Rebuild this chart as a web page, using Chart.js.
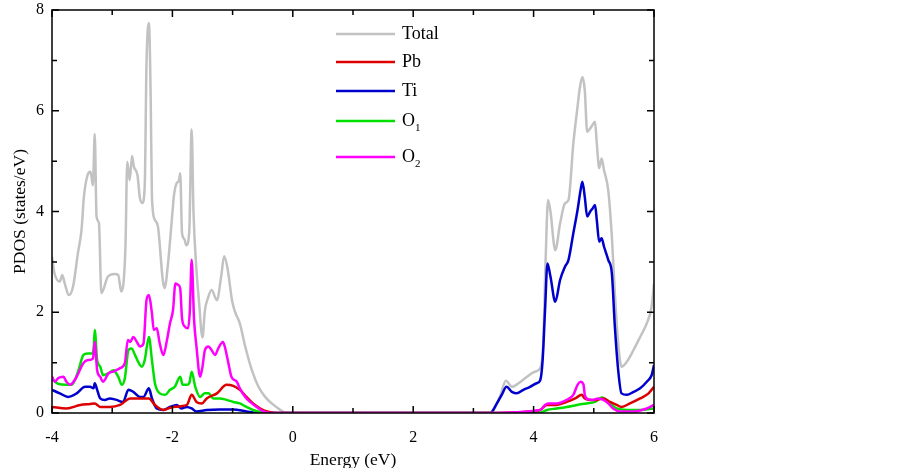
<!DOCTYPE html>
<html>
<head>
<meta charset="utf-8">
<script src="https://cdn.jsdelivr.net/npm/chart.js@4.4.1/dist/chart.umd.min.js"></script>
<style>
  html, body { margin: 0; padding: 0; background: #fff; }
  #wrap { width: 903px; height: 468px; position: relative; }
</style>
</head>
<body>
<div id="wrap"><canvas id="pdosChart"></canvas></div>
<script>
// values, one energy/value pair of arrays per curve
const totalE = [-4.0, -3.96, -3.87, -3.83, -3.79, -3.72, -3.65, -3.57, -3.51, -3.47, -3.41, -3.36, -3.32, -3.29, -3.26, -3.22, -3.18, -3.07, -2.96, -2.90, -2.85, -2.78, -2.75, -2.71, -2.67, -2.64, -2.58, -2.54, -2.50, -2.46, -2.43, -2.39, -2.36, -2.34, -2.29, -2.24, -2.16, -2.13, -2.07, -2.01, -1.97, -1.93, -1.89, -1.87, -1.84, -1.80, -1.77, -1.72, -1.68, -1.65, -1.60, -1.56, -1.50, -1.46, -1.41, -1.35, -1.26, -1.19, -1.14, -1.08, -1.01, -0.96, -0.88, -0.79, -0.68, -0.57, -0.46, -0.35, -0.24, -0.13, 0.0, 3.28, 3.44, 3.54, 3.64, 3.75, 3.89, 4.02, 4.11, 4.16, 4.20, 4.24, 4.28, 4.36, 4.44, 4.52, 4.58, 4.66, 4.73, 4.77, 4.81, 4.85, 4.89, 4.94, 4.98, 5.02, 5.05, 5.09, 5.13, 5.17, 5.24, 5.30, 5.35, 5.41, 5.46, 5.55, 5.66, 5.77, 5.88, 5.96, 6.0];
const totalPdos = [3.10, 2.78, 2.61, 2.74, 2.58, 2.34, 2.51, 3.17, 3.63, 4.29, 4.72, 4.79, 4.52, 5.54, 3.90, 3.77, 2.38, 2.71, 2.76, 2.74, 2.41, 3.30, 4.99, 4.62, 5.10, 4.89, 4.72, 4.27, 4.17, 4.49, 6.94, 7.74, 6.20, 4.29, 3.83, 3.70, 2.64, 2.48, 3.00, 3.83, 4.36, 4.56, 4.62, 4.76, 3.57, 3.45, 3.33, 3.60, 5.63, 4.00, 2.84, 2.24, 1.50, 2.04, 2.28, 2.44, 2.24, 2.71, 3.11, 2.84, 2.24, 2.01, 1.78, 1.32, 0.85, 0.52, 0.32, 0.19, 0.09, 0.01, 0, 0, 0.32, 0.64, 0.52, 0.59, 0.72, 0.82, 0.89, 1.38, 3.04, 4.23, 4.00, 3.23, 3.76, 4.16, 4.23, 5.35, 6.08, 6.47, 6.67, 6.41, 5.58, 5.65, 5.72, 5.78, 5.35, 4.86, 5.05, 4.82, 4.42, 3.50, 2.37, 1.32, 0.92, 1.02, 1.25, 1.51, 1.78, 2.11, 2.57];

const pbE = [-4.0, -3.76, -3.53, -3.37, -3.29, -3.20, -3.04, -2.87, -2.70, -2.54, -2.39, -2.29, -2.15, -1.99, -1.76, -1.68, -1.60, -1.51, -1.43, -1.26, -1.10, -0.99, -0.88, -0.77, -0.66, -0.54, -0.43, -0.27, 3.20, 3.94, 4.11, 4.22, 4.38, 4.55, 4.69, 4.80, 4.85, 4.94, 5.05, 5.16, 5.27, 5.38, 5.46, 5.60, 5.77, 5.91, 6.0];
const pbPdos = [0.12, 0.09, 0.16, 0.18, 0.19, 0.12, 0.12, 0.16, 0.29, 0.29, 0.29, 0.16, 0.06, 0.12, 0.16, 0.36, 0.22, 0.19, 0.29, 0.39, 0.56, 0.54, 0.46, 0.32, 0.19, 0.09, 0.03, 0, 0, 0.03, 0.06, 0.16, 0.16, 0.22, 0.29, 0.36, 0.29, 0.26, 0.26, 0.29, 0.22, 0.16, 0.12, 0.19, 0.29, 0.39, 0.52];

const tiE = [-4.0, -3.87, -3.73, -3.59, -3.45, -3.37, -3.31, -3.29, -3.25, -3.20, -3.12, -3.04, -2.93, -2.82, -2.73, -2.65, -2.54, -2.48, -2.39, -2.34, -2.26, -2.15, -2.04, -1.93, -1.85, -1.76, -1.68, -1.60, -1.43, -1.21, -0.99, -0.77, -0.54, 3.28, 3.39, 3.47, 3.55, 3.64, 3.72, 3.83, 3.94, 4.05, 4.11, 4.15, 4.19, 4.23, 4.28, 4.36, 4.44, 4.52, 4.58, 4.66, 4.73, 4.78, 4.81, 4.85, 4.89, 4.94, 4.98, 5.02, 5.05, 5.09, 5.13, 5.17, 5.24, 5.30, 5.35, 5.41, 5.46, 5.55, 5.66, 5.77, 5.88, 5.96, 6.0];
const tiPdos = [0.46, 0.39, 0.32, 0.39, 0.52, 0.52, 0.49, 0.59, 0.46, 0.29, 0.26, 0.29, 0.26, 0.22, 0.46, 0.42, 0.32, 0.32, 0.49, 0.29, 0.09, 0.06, 0.12, 0.16, 0.09, 0.12, 0.09, 0.03, 0.06, 0.07, 0.07, 0.03, 0, 0, 0.19, 0.36, 0.52, 0.42, 0.39, 0.46, 0.52, 0.59, 0.65, 1.05, 2.04, 2.97, 2.71, 2.21, 2.64, 2.90, 3.04, 3.57, 4.03, 4.42, 4.59, 4.29, 3.90, 4.00, 4.06, 4.13, 3.83, 3.40, 3.47, 3.30, 3.04, 2.77, 1.71, 0.79, 0.39, 0.36, 0.42, 0.49, 0.62, 0.75, 0.95];

const o1E = [-4.0, -3.90, -3.76, -3.67, -3.56, -3.48, -3.41, -3.34, -3.31, -3.29, -3.25, -3.20, -3.15, -3.06, -2.98, -2.90, -2.84, -2.79, -2.73, -2.68, -2.62, -2.57, -2.51, -2.46, -2.39, -2.34, -2.29, -2.21, -2.12, -2.04, -1.96, -1.87, -1.83, -1.76, -1.72, -1.68, -1.62, -1.54, -1.46, -1.40, -1.32, -1.21, -1.10, -0.99, -0.88, -0.77, -0.66, -0.49, -0.32, 3.20, 4.11, 4.22, 4.38, 4.55, 4.72, 4.88, 5.02, 5.13, 5.21, 5.30, 5.38, 5.55, 5.77, 6.0];
const o1Pdos = [0.67, 0.58, 0.56, 0.56, 0.85, 1.15, 1.18, 1.18, 1.25, 1.65, 1.05, 0.92, 0.75, 0.79, 0.85, 0.72, 0.56, 0.69, 1.25, 1.28, 1.15, 1.02, 0.92, 1.05, 1.51, 1.05, 0.59, 0.39, 0.36, 0.46, 0.52, 0.72, 0.56, 0.56, 0.59, 0.82, 0.52, 0.32, 0.39, 0.39, 0.29, 0.29, 0.26, 0.22, 0.19, 0.12, 0.06, 0.01, 0, 0, 0.01, 0.06, 0.09, 0.12, 0.16, 0.19, 0.22, 0.31, 0.26, 0.16, 0.09, 0.06, 0.06, 0.09];

const o2E = [-4.0, -3.95, -3.90, -3.81, -3.76, -3.70, -3.59, -3.48, -3.40, -3.32, -3.29, -3.25, -3.20, -3.15, -3.06, -2.98, -2.87, -2.79, -2.74, -2.70, -2.65, -2.59, -2.54, -2.48, -2.43, -2.39, -2.34, -2.31, -2.26, -2.21, -2.15, -2.09, -2.04, -1.99, -1.95, -1.90, -1.87, -1.84, -1.79, -1.74, -1.71, -1.68, -1.64, -1.60, -1.54, -1.50, -1.46, -1.40, -1.35, -1.29, -1.24, -1.16, -1.13, -1.07, -1.02, -0.93, -0.88, -0.79, -0.71, -0.60, -0.49, -0.38, 3.20, 4.11, 4.19, 4.24, 4.38, 4.55, 4.66, 4.73, 4.78, 4.83, 4.85, 4.91, 4.99, 5.07, 5.16, 5.24, 5.32, 5.44, 5.66, 5.88, 6.0];
const o2Pdos = [0.72, 0.62, 0.69, 0.72, 0.62, 0.56, 0.72, 0.99, 1.05, 1.08, 1.41, 0.85, 0.72, 0.62, 0.79, 0.82, 0.89, 0.99, 1.45, 1.41, 1.51, 1.41, 1.32, 1.38, 2.24, 2.34, 1.98, 1.65, 1.68, 1.38, 1.15, 1.45, 1.78, 2.04, 2.57, 2.54, 2.47, 1.88, 1.71, 1.68, 2.04, 3.04, 1.85, 1.32, 0.72, 0.92, 1.25, 1.32, 1.25, 1.15, 1.28, 1.41, 1.32, 0.99, 0.72, 0.62, 0.49, 0.32, 0.22, 0.12, 0.03, 0, 0, 0.06, 0.16, 0.19, 0.19, 0.26, 0.36, 0.56, 0.62, 0.56, 0.36, 0.27, 0.26, 0.29, 0.26, 0.19, 0.09, 0.03, 0.03, 0.09, 0.16];

const legendNames = ['Total', 'Pb', 'Ti', 'O', 'O'];
const legendSubs = ['', '', '', '1', '2'];
const xTicks = [-4, -2, 0, 2, 4, 6];
const yTicks = [0, 2, 4, 6, 8];

const colors = ['#c2c2c2', '#dd0000', '#0000cc', '#00e000', '#ff00ff'];
const serif = 'Liberation Serif';

const pairs = (xs, ys) => xs.map((e, i) => ({x: e, y: ys[i]}));

// Total at the back, O2 on top
const datasets = [
    {label: 'Total', data: pairs(totalE, totalPdos), borderColor: colors[0], order: 5},
    {label: 'Pb', data: pairs(pbE, pbPdos), borderColor: colors[1], order: 2},
    {label: 'Ti', data: pairs(tiE, tiPdos), borderColor: colors[2], order: 4},
    {label: 'O1', data: pairs(o1E, o1Pdos), borderColor: colors[3], order: 3},
    {label: 'O2', data: pairs(o2E, o2Pdos), borderColor: colors[4], order: 1},
].map(d => Object.assign(d, {
    borderWidth: 2.5,
    pointRadius: 0,
    fill: false,
    cubicInterpolationMode: 'monotone',
}));

// box round the plot with inward ticks on every side
const frameTicks = {
    id: 'frameTicks',
    afterDatasetsDraw(chart) {
        const {ctx, chartArea: a, scales: {x, y}} = chart;
        ctx.save();
        ctx.strokeStyle = '#000';
        ctx.lineWidth = 1.5;
        ctx.beginPath();
        for (let v = -4; v <= 6; v++) {
            const px = x.getPixelForValue(v);
            const len = xTicks.includes(v) ? 7 : 5;
            ctx.moveTo(px, a.bottom); ctx.lineTo(px, a.bottom - len);
            ctx.moveTo(px, a.top); ctx.lineTo(px, a.top + len);
        }
        for (let v = 0; v <= 8; v++) {
            const py = y.getPixelForValue(v);
            const len = yTicks.includes(v) ? 7 : 5;
            ctx.moveTo(a.left, py); ctx.lineTo(a.left + len, py);
            ctx.moveTo(a.right, py); ctx.lineTo(a.right - len, py);
        }
        ctx.stroke();
        ctx.strokeRect(a.left, a.top, a.right - a.left, a.bottom - a.top);
        ctx.restore();
    }
};

// legend drawn by hand because of the subscripts
const subLegend = {
    id: 'subLegend',
    afterDraw(chart) {
        const ctx = chart.ctx;
        const rowsY = [34, 62, 91, 121, 157];
        ctx.save();
        ctx.textBaseline = 'middle';
        ctx.fillStyle = '#000';
        legendNames.forEach((name, i) => {
            ctx.strokeStyle = colors[i];
            ctx.lineWidth = 2.5;
            ctx.beginPath();
            ctx.moveTo(336, rowsY[i]);
            ctx.lineTo(395, rowsY[i]);
            ctx.stroke();
            ctx.font = '18px "' + serif + '"';
            ctx.fillText(name, 402, rowsY[i]);
            if (legendSubs[i]) {
                const w = ctx.measureText(name).width;
                ctx.font = '11px "' + serif + '"';
                ctx.fillText(legendSubs[i], 402 + w, rowsY[i] + 7);
            }
        });
        ctx.restore();
    }
};

new Chart(document.getElementById('pdosChart'), {
    type: 'line',
    data: {datasets: datasets},
    options: {
        responsive: true,
        maintainAspectRatio: false,
        animation: false,
        layout: {padding: {left: 0, right: 249, top: 10, bottom: -3}},
        plugins: {legend: {display: false}, tooltip: {enabled: false}},
        scales: {
            x: {
                type: 'linear',
                min: -4,
                max: 6,
                afterBuildTicks: s => { s.ticks = xTicks.map(v => ({value: v})); },
                afterFit: s => { s.height = 58; s.paddingLeft = 0; s.paddingRight = 0; },
                ticks: {padding: 15, color: '#000', font: {family: serif, size: 16}},
                grid: {display: false, drawTicks: false},
                border: {display: false},
                title: {display: true, text: 'Energy (eV)', color: '#000', font: {family: serif, size: 17.5}, padding: {top: 0, bottom: 0}}
            },
            y: {
                type: 'linear',
                min: 0,
                max: 8,
                afterBuildTicks: s => { s.ticks = yTicks.map(v => ({value: v})); },
                afterFit: s => { s.width = 52; s.paddingTop = 0; s.paddingBottom = 0; },
                ticks: {padding: 8, color: '#000', font: {family: serif, size: 16}},
                grid: {display: false, drawTicks: false},
                border: {display: false},
                title: {display: true, text: 'PDOS (states/eV)', color: '#000', font: {family: serif, size: 17.5}, padding: {top: 10, bottom: 0}}
            }
        }
    },
    plugins: [frameTicks, subLegend]
});
</script>
</body>
</html>
